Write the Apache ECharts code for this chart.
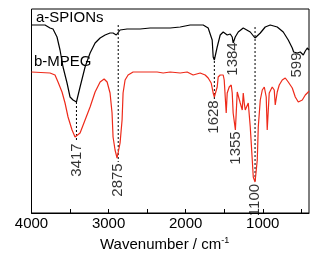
<!DOCTYPE html>
<html><head><meta charset="utf-8">
<script src="https://cdn.jsdelivr.net/npm/echarts@6/dist/echarts.min.js"></script>
<style>html,body{margin:0;padding:0;background:#fff}#c{width:329px;height:255px}</style>
</head><body><div id="c"></div>
<script>
// a-SPIONs spectrum (wavenumber cm-1, transmittance a.u.)
const spionWn = [4000,3825,3760,3721,3669,3630,3591,3539,3500,3461,3417,3370,3305,3240,3175,3110,3045,2981,2942,2900,2875,2851,2760,2591,2461,2331,2201,2071,1942,1773,1708,1656,1643,1628,1591,1552,1513,1461,1422,1396,1384,1357,1318,1253,1162,1100,1032,968,903,812,734,669,617,599,552,513,474,448,422,400];
const spionT  = [188,188,185,184,176,163,146,130,116,113,111,126,146,160,170,175,178,180,180,178,176,183,184,184,185,185,185,186,188,188,185,173,156,153,166,178,181,178,179,176,170,176,181,185,181,175,180,186,188,186,181,173,165,161,160,161,158,162,165,163];
// b-MPEG spectrum
const mpegWn = [4000,3760,3695,3656,3604,3565,3526,3474,3435,3417,3370,3305,3240,3175,3110,3058,3019,2981,2955,2942,2916,2890,2875,2851,2825,2812,2786,2747,2682,2552,2370,2357,2292,2201,2071,1981,1903,1812,1747,1708,1669,1643,1628,1591,1578,1552,1513,1500,1474,1461,1435,1409,1396,1384,1355,1331,1318,1292,1266,1253,1240,1227,1188,1162,1136,1123,1100,1071,1058,1032,1006,980,955,942,916,877,851,838,812,786,747,708,669,617,578,539,487,448,409,400];
const mpegT  = [141,140,138,131,121,110,96,83,76,75,80,93,106,121,131,134,131,120,100,76,63,55,53,70,93,120,133,138,141,141,141,140,140,141,140,141,138,140,138,135,130,120,116,126,136,138,138,133,100,120,126,128,120,100,83,121,123,110,103,120,110,103,110,86,53,36,31,53,86,113,123,126,116,83,120,126,123,108,121,128,133,135,131,125,116,111,113,118,121,122];
// drop lines
const dropWn = [3417,2875,1628,1100];
const dropTop = [111,188,156,186];
const dropBottom = [71,51,113,30];
// peak annotations
const peakText = ['3417','2875','1628','1384','1355','1100','599'];
const peakWn = [3417,2875,1628,1384,1355,1105,555];
const peakT = [53,33,96,154,65,13,148];
const tickLabels = [4000,3000,2000,1000];
const tickMarks = [4000,3500,3000,2500,2000,1500,1000,500];

const zip = (a,b)=>a.map((v,i)=>[v,b[i]]);
const FONT = 'Liberation Sans, Arial, sans-serif';
const series = [
  {type:'line', data: zip(spionWn, spionT), showSymbol:false, lineStyle:{color:'#000', width:1.2}, z:3},
  {type:'line', data: zip(mpegWn, mpegT), showSymbol:false, lineStyle:{color:'#ee2a1a', width:1.2}, z:3}
];
dropWn.forEach((w,i)=>series.push({type:'line', data:[[w,dropTop[i]],[w,dropBottom[i]]], showSymbol:false, lineStyle:{color:'#000', width:1, type:[2,2]}, z:2}));
series.push({type:'scatter', symbolSize:0, z:5,
  data: peakWn.map((w,i)=>({value:[w,peakT[i]], name:peakText[i]})),
  label:{show:true, formatter:p=>p.name, rotate:90, position:[0,0], align:'center', verticalAlign:'middle', color:'#000', fontSize:15, fontFamily:FONT}
});
const chart = echarts.init(document.getElementById('c'), null, {renderer:'canvas'});
chart.setOption({
  animation:false,
  grid:{left:31.5, right:20, top:9, bottom:42, show:true, borderColor:'#000', borderWidth:1},
  xAxis:{type:'value', min:400, max:4000, inverse:true,
    axisLine:{show:true, lineStyle:{color:'#000', width:1}},
    axisTick:{show:true, inside:true, length:4, customValues:tickMarks, lineStyle:{color:'#000'}},
    axisLabel:{customValues:tickLabels, formatter:v=>String(v), color:'#000', fontSize:15, fontFamily:FONT, margin:3},
    splitLine:{show:false}
  },
  yAxis:{type:'value', min:0, max:204, show:false},
  graphic:[
    {type:'text', left:36, top:10, style:{text:'a-SPIONs', fill:'#000', font:'15px '+FONT}},
    {type:'text', left:34, top:54, style:{text:'b-MPEG', fill:'#000', font:'15px '+FONT}},
    {type:'text', left:100, top:236, style:{text:'{a|Wavenumber / cm}{s|-1}', rich:{a:{fontSize:15, fontFamily:FONT, fill:'#000', color:'#000'}, s:{fontSize:9, fontFamily:FONT, color:'#000', fill:'#000', verticalAlign:'top', padding:[0,0,8,0]}}}}
  ],
  series
});
</script></body></html>
